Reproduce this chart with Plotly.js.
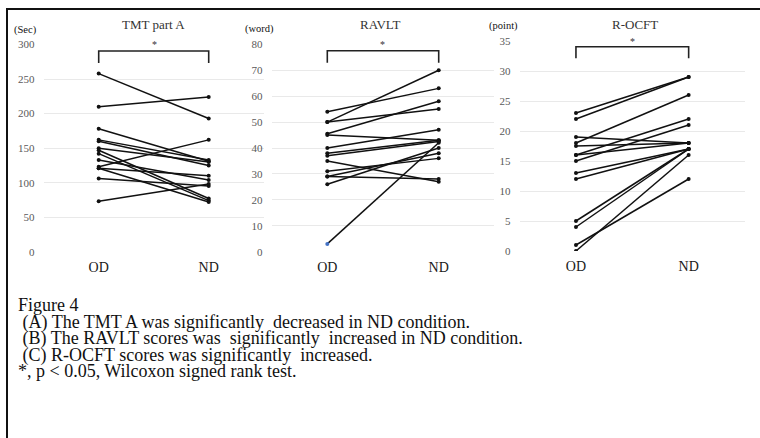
<!DOCTYPE html>
<html>
<head>
<meta charset="utf-8">
<script src="https://cdn.plot.ly/plotly-3.0.1.min.js"></script>
<style>
html,body{margin:0;padding:0;background:#fff;}
#chart{width:760px;height:438px;}
</style>
</head>
<body>
<div id="chart"></div>
<script>
// ---- data ----
const conditions = ['OD', 'ND'];

const tmtOD = [258, 210, 178, 162, 160, 150, 147, 142, 133, 123, 121, 121, 106, 73];
const tmtND = [193, 224, 131, 133, 125, 130, 77, 74, 104, 162, 72, 110, 95, 98];

const ravltOD = [54, 50, 50, 45.5, 45, 40, 38, 37, 35, 31, 29, 29, 26, 3];
const ravltND = [63, 70, 55, 58, 43, 47, 43, 42.5, 27, 36, 38, 28, 40, 42];

const rocftOD = [23, 22, 19, 18, 17.5, 16, 16, 15, 13, 12, 5, 4, 1, 0];
const rocftND = [29, 29, 18, 26, 18, 22, 18, 21, 17, 17, 17, 17, 12, 16];

const panelTitles = ['TMT part A', 'RAVLT', 'R-OCFT'];
const unitLabels = ['(Sec)', '(word)', '(point)'];
const yTicks = [
  [0, 50, 100, 150, 200, 250, 300],
  [0, 10, 20, 30, 40, 50, 60, 70, 80],
  [0, 5, 10, 15, 20, 25, 30, 35]
];
const captionLines = [
  'Figure 4',
  '\u00a0(A) The TMT A was significantly\u00a0 decreased in ND condition.',
  '\u00a0(B) The RAVLT scores was\u00a0 significantly\u00a0 increased in ND condition.',
  '\u00a0(C) R-OCFT scores was significantly\u00a0 increased.',
  '*, p &lt; 0.05, Wilcoxon signed rank test.'
];

// ---- layout helpers ----
const W = 760, H = 438;
const px = v => v / W;
const py = v => 1 - v / H;

const serif = 'Liberation Serif, Times New Roman, serif';
const panels = [
  {od: tmtOD, nd: tmtND, x0: 43.7, x1: 263.7, yTop: 44.6, yBot: 251.7, ymax: 300, special: -1,
   titleX: 153.7, unitX: 25.5, unitY: 30, star: [154, 44.5], br: [51, 63]},
  {od: ravltOD, nd: ravltND, x0: 271.6, x1: 494.4, yTop: 44.3, yBot: 251.7, ymax: 80, special: 13,
   titleX: 381, unitX: 259.5, unitY: 28.5, star: [382.7, 44.5], br: [50.7, 62.7]},
  {od: rocftOD, nd: rocftND, x0: 519.6, x1: 745, yTop: 41, yBot: 251, ymax: 35, special: -1,
   titleX: 635, unitX: 503.5, unitY: 26, star: [632.7, 42], br: [46.7, 58.3]}
];

const traces = [];
const layout = {
  width: W, height: H,
  margin: {l: 0, r: 0, t: 0, b: 0},
  paper_bgcolor: '#fff', plot_bgcolor: '#fff',
  showlegend: false,
  font: {family: serif},
  annotations: [], shapes: []
};

panels.forEach((p, i) => {
  const k = i === 0 ? '' : String(i + 1);
  const xa = 'x' + k, ya = 'y' + k;
  p.od.forEach((v, j) => {
    const blue = j === p.special;
    traces.push({
      x: conditions, y: [v, p.nd[j]],
      xaxis: xa, yaxis: ya,
      type: 'scatter', mode: 'lines+markers',
      line: {color: '#111', width: 1.5},
      marker: {size: 4, color: blue ? ['#4472c4', '#111'] : '#111'},
      hoverinfo: 'skip'
    });
  });
  layout['xaxis' + k] = {
    domain: [px(p.x0), px(p.x1)], anchor: ya,
    type: 'category', range: [-0.5, 1.5],
    showgrid: false, zeroline: false, showline: false,
    ticks: 'outside', ticklen: 2, tickcolor: 'rgba(0,0,0,0)',
    tickfont: {family: serif, size: 14, color: '#1a1a1a'}
  };
  layout['yaxis' + k] = {
    domain: [py(p.yBot), py(p.yTop)], anchor: xa,
    range: [0, p.ymax], tickvals: yTicks[i],
    showgrid: true, gridcolor: '#e9e9e9', gridwidth: 1,
    zeroline: false, showline: false,
    ticks: 'outside', ticklen: 6, tickcolor: 'rgba(0,0,0,0)',
    tickfont: {family: serif, size: 11, color: '#595959'}
  };
  layout.annotations.push({
    xref: 'paper', yref: 'paper', x: px(p.titleX), y: py(25),
    xanchor: 'center', yanchor: 'middle', showarrow: false,
    text: panelTitles[i], font: {family: serif, size: 13, color: '#333'}
  });
  layout.annotations.push({
    xref: 'paper', yref: 'paper', x: px(p.unitX), y: py(p.unitY),
    xanchor: 'center', yanchor: 'middle', showarrow: false,
    text: unitLabels[i], font: {family: serif, size: 10.5, color: '#111'}
  });
  layout.annotations.push({
    xref: 'paper', yref: 'paper', x: px(p.star[0]), y: py(p.star[1]),
    xanchor: 'center', yanchor: 'middle', showarrow: false,
    text: '*', font: {family: serif, size: 10, color: '#333'}
  });
  layout.shapes.push({
    type: 'path', xref: xa, yref: 'paper',
    path: 'M 0,' + py(p.br[1]) + ' L 0,' + py(p.br[0]) + ' L 1,' + py(p.br[0]) + ' L 1,' + py(p.br[1]),
    line: {color: '#222', width: 1.6}
  });
});

// caption: one text block, tight line spacing as in the reference
const capText = captionLines.map(t => '<span style="font-size:18px">' + t + '</span>').join('<br>');
layout.annotations.push({
  xref: 'paper', yref: 'paper', x: px(16), y: py(292.5),
  xanchor: 'left', yanchor: 'top', align: 'left', showarrow: false,
  text: capText, font: {family: serif, size: 12.77, color: '#111'}
});

// frame
layout.shapes.push({type: 'line', xref: 'paper', yref: 'paper', x0: px(6), x1: 1, y0: py(9), y1: py(9), line: {color: '#111', width: 2}});
layout.shapes.push({type: 'line', xref: 'paper', yref: 'paper', x0: px(7), x1: px(7), y0: py(8), y1: 0, line: {color: '#111', width: 2}});

Plotly.newPlot('chart', traces, layout, {staticPlot: true, displayModeBar: false});
</script>
</body>
</html>
